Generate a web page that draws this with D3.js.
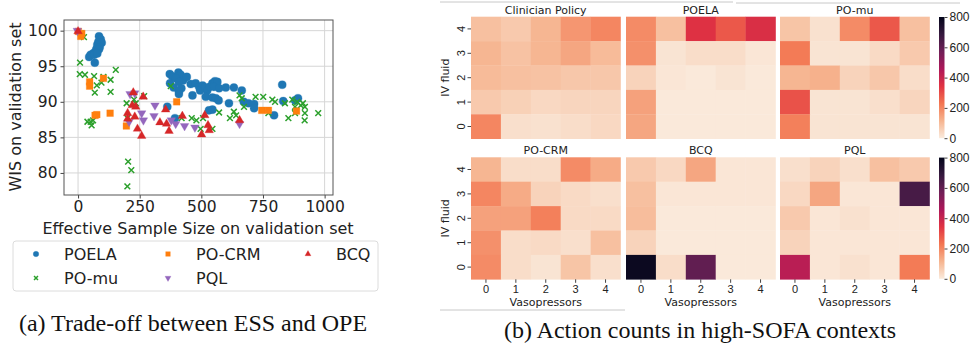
<!DOCTYPE html>
<html>
<head>
<meta charset="utf-8">
<script src="https://cdn.jsdelivr.net/npm/d3@7"></script>
<style>
  body { margin: 0; background: #fff; }
  svg { display: block; font-family: "DejaVu Sans", sans-serif; }
</style>
</head>
<body>
<svg id="chart" width="972" height="349"></svg>
<script>
// --- scatter data (ESS, WIS) ---
const poela = [
  [85, 99.2], [92, 98.8], [82, 98.4], [96, 98.3], [78, 98.0], [88, 97.7], [74, 97.4], [85, 97.4],
  [69, 97.0], [61, 96.8], [51, 96.6], [45, 96.3], [65, 96.6], [68, 95.5], [78, 96.8],
  [372, 93.9], [382, 93.6], [373, 92.6], [407, 94.1], [416, 93.8], [396, 93.3], [426, 93.0],
  [441, 93.5], [409, 92.8], [388, 92.0], [419, 91.9], [409, 91.5], [457, 92.5], [477, 92.6],
  [491, 92.1], [505, 92.3], [495, 91.6], [515, 92.0], [524, 91.6], [534, 92.1], [545, 92.6],
  [555, 92.9], [565, 92.8], [551, 92.1], [572, 91.9], [518, 90.7], [545, 90.6], [559, 90.5],
  [570, 90.2], [464, 90.9], [599, 92.0], [632, 92.0], [664, 91.6], [612, 89.8], [672, 90.0],
  [691, 89.8], [714, 89.7], [714, 89.1], [828, 92.4], [832, 90.1], [880, 90.2], [892, 90.5],
  [795, 88.1], [531, 88.8], [545, 88.9], [362, 89.3], [393, 87.7], [409, 91.1]
];
const poMu = [
  [11, 99.6], [24, 99.1], [8, 95.5], [7, 93.9], [28, 93.8], [65, 93.6], [103, 93.5], [132, 93.1],
  [153, 94.5], [95, 92.7], [76, 92.3], [68, 91.3], [132, 91.4], [38, 87.2], [51, 87.2], [55, 86.7],
  [61, 87.4], [197, 89.8], [200, 87.7], [203, 81.6], [216, 80.4], [200, 78.1], [227, 90.3],
  [234, 89.8], [268, 90.8], [376, 92.2], [420, 87.7], [461, 87.7], [480, 87.4], [497, 86.2],
  [507, 87.7], [545, 86.2], [572, 88.5], [616, 87.7], [632, 88.6], [641, 88.1], [655, 90.9],
  [664, 90.5], [673, 89.3], [720, 90.7], [751, 90.7], [772, 88.4], [788, 90.3], [799, 90.0],
  [839, 89.8], [853, 87.7], [869, 90.3], [880, 89.3], [889, 90.0], [903, 89.5], [912, 89.8],
  [920, 89.3], [920, 88.4], [919, 87.4], [974, 88.4], [880, 88.4]
];
const poCrm = [
  [1, 99.9], [15, 99.6], [11, 99.2], [47, 92.8], [47, 92.2], [103, 93.3], [69, 88.1], [76, 88.2],
  [130, 88.4], [196, 86.6], [400, 90.0], [745, 88.8], [772, 88.8], [886, 88.7]
];
const pql = [
  [-3, 100.0], [211, 91.1], [230, 91.2], [207, 87.2], [258, 88.4], [265, 87.4], [312, 89.5],
  [308, 88.0], [378, 87.4], [396, 86.9], [432, 86.6], [474, 86.4], [655, 86.9]
];
const bcq = [
  [0, 99.9], [201, 88.4], [201, 87.6], [220, 89.5], [224, 91.3], [234, 89.3], [230, 87.9],
  [241, 86.2], [258, 85.2], [264, 90.7], [332, 87.1], [359, 86.9], [369, 85.9], [355, 88.9],
  [423, 88.0], [501, 85.4], [514, 88.1], [527, 86.7], [532, 86.0], [655, 87.4]
];
const xTicks = [0, 250, 500, 750, 1000];
const yTicks = [80, 85, 90, 95, 100];

// --- heatmap data: rows IV fluid 4..0 (top to bottom), columns vasopressors 0..4 ---
const panelNames = ['Clinician Policy', 'POELA', 'PO-mu', 'PO-CRM', 'BCQ', 'PQL'];
const clinician = [
  [90, 70, 110, 170, 200],
  [110, 85, 110, 140, 100],
  [100, 90, 85, 75, 75],
  [70, 55, 40, 45, 45],
  [200, 25, 20, 30, 40]
];
const poelaCounts = [
  [190, 90, 350, 280, 360],
  [180, 15, 30, 30, 10],
  [50, 10, 5, 15, 5],
  [150, 5, 5, 5, 5],
  [140, 5, 5, 5, 5]
];
const poMuCounts = [
  [80, 20, 190, 280, 90],
  [220, 15, 15, 35, 70],
  [110, 120, 50, 75, 30],
  [290, 15, 15, 25, 45],
  [210, 15, 15, 15, 15]
];
const poCrmCounts = [
  [110, 30, 30, 190, 130],
  [200, 130, 50, 35, 25],
  [150, 150, 210, 35, 35],
  [180, 30, 35, 25, 90],
  [190, 30, 15, 80, 25]
];
const bcqCounts = [
  [70, 40, 140, 10, 10],
  [90, 10, 10, 10, 10],
  [95, 5, 5, 5, 5],
  [50, 5, 5, 5, 5],
  [780, 30, 600, 5, 5]
];
const pqlCounts = [
  [25, 50, 25, 90, 70],
  [40, 140, 10, 10, 650],
  [70, 10, 20, 10, 10],
  [50, 10, 10, 10, 10],
  [430, 10, 20, 10, 220]
];
const levels = [0, 1, 2, 3, 4];
const cbarTicks = [0, 200, 400, 600, 800];
// seaborn "rocket" colour stops, light to dark (rocket_r)
const rocketR = ['#faebdd', '#f6b48f', '#f37651', '#e13342', '#ad1759', '#701f57', '#35193e', '#03051a'];

const svg = d3.select('#chart');

// ================= (a) scatter =================
const x = d3.scaleLinear().domain([-57, 1034]).range([64, 333]);
const y = d3.scaleLinear().domain([76.9, 101.5]).range([195, 20]);

const sc = svg.append('g');

sc.selectAll('line.gx').data(xTicks).enter().append('line')
  .attr('x1', d => x(d)).attr('x2', d => x(d))
  .attr('y1', y.range()[1]).attr('y2', y.range()[0])
  .style('stroke', '#d6d6d6').style('stroke-width', 1);
sc.selectAll('line.gy').data(yTicks).enter().append('line')
  .attr('y1', d => y(d)).attr('y2', d => y(d))
  .attr('x1', x.range()[0]).attr('x2', x.range()[1])
  .style('stroke', '#d6d6d6').style('stroke-width', 1);

const xAxis = sc.append('g')
  .attr('transform', `translate(0,${y.range()[0]})`)
  .call(d3.axisBottom(x).tickValues(xTicks).tickFormat(d3.format('d')).tickSize(3.5).tickPadding(2.5));
const yAxis = sc.append('g')
  .attr('transform', `translate(${x.range()[0]},0)`)
  .call(d3.axisLeft(y).tickValues(yTicks).tickSize(3.5).tickPadding(3));
[xAxis, yAxis].forEach(a => {
  a.select('.domain').remove();
  a.selectAll('text').style('font-size', '15.5px').style('fill', '#222').style('font-family', 'DejaVu Sans');
  a.selectAll('line').style('stroke', '#444');
});

sc.append('rect')
  .attr('x', x.range()[0]).attr('y', y.range()[1])
  .attr('width', x.range()[1] - x.range()[0]).attr('height', y.range()[0] - y.range()[1])
  .style('fill', 'none').style('stroke', '#555').style('stroke-width', 1);

const series = [
  { name: 'POELA', data: poela, color: '#1f77b4', shape: 'circle' },
  { name: 'PO-mu', data: poMu, color: '#2ca02c', shape: 'x' },
  { name: 'PO-CRM', data: poCrm, color: '#ff7f0e', shape: 'square' },
  { name: 'PQL', data: pql, color: '#9467bd', shape: 'down' },
  { name: 'BCQ', data: bcq, color: '#d62728', shape: 'up' }
];

function markerPath(shape, s) {
  if (shape === 'circle') return d3.symbol(d3.symbolCircle, s * s * 0.8)();
  if (shape === 'square') return d3.symbol(d3.symbolSquare, s * s * 0.7)();
  if (shape === 'up' || shape === 'down') return d3.symbol(d3.symbolTriangle, s * s * 0.5)();
  const h = s * 0.36;
  return `M${-h},${-h}L${h},${h}M${-h},${h}L${h},${-h}`;
}

function drawMarker(sel, ser, size) {
  sel.append('path')
    .attr('d', markerPath(ser.shape, size))
    .attr('transform', ser.shape === 'down' ? 'rotate(180)' : null)
    .style('fill', ser.shape === 'x' ? 'none' : ser.color)
    .style('stroke', ser.color)
    .style('stroke-width', ser.shape === 'x' ? 1.5 : 0.3);
}

series.forEach(ser => {
  const g = sc.append('g');
  g.selectAll('g').data(ser.data).enter().append('g')
    .attr('transform', d => `translate(${x(d[0])},${y(d[1])})`)
    .each(function () { drawMarker(d3.select(this), ser, 8); });
});

sc.append('text')
  .attr('x', 198).attr('y', 234)
  .attr('text-anchor', 'middle')
  .style('font-size', '16px').style('fill', '#222')
  .text('Effective Sample Size on validation set');
sc.append('text')
  .attr('transform', 'translate(21,107) rotate(-90)')
  .attr('text-anchor', 'middle')
  .style('font-size', '16px').style('fill', '#222')
  .text('WIS on validation set');

// legend (matplotlib ncol=3 fills column-wise)
const lg = sc.append('g');
lg.append('rect')
  .attr('x', 13).attr('y', 241).attr('width', 365).attr('height', 50).attr('rx', 3)
  .style('fill', '#fff').style('stroke', '#dcdcdc');
const legendPos = [[36, 254], [36, 278], [168, 254], [168, 278], [308, 254]];
series.forEach((ser, i) => {
  const item = lg.append('g').attr('transform', `translate(${legendPos[i][0]},${legendPos[i][1]})`);
  drawMarker(item, ser, 5.5);
  item.append('text')
    .attr('x', 28).attr('y', 6)
    .style('font-size', '16px').style('fill', '#222')
    .text(ser.name);
});

svg.append('text')
  .attr('x', 193).attr('y', 331)
  .attr('text-anchor', 'middle')
  .style('font-family', '"Liberation Serif", serif').style('font-size', '24px').style('fill', '#111')
  .text('(a) Trade-off between ESS and OPE');

// ================= (b) heatmaps =================
const color = d3.scaleLinear()
  .domain(rocketR.map((c, i) => i * 800 / (rocketR.length - 1)))
  .range(rocketR)
  .interpolate(d3.interpolateRgb)
  .clamp(true);

const matrices = [clinician, poelaCounts, poMuCounts, poCrmCounts, bcqCounts, pqlCounts];
const colLeft = [471, 626, 780];
const rowTop = [16.7, 157.3];
const hmW = 149.5, hmH = 122;

const hm = svg.append('g');

// subfigure frame remnants
hm.append('line').attr('x1', 440).attr('x2', 733).attr('y1', 2).attr('y2', 2).style('stroke', '#c8c8c8');
hm.append('line').attr('x1', 736).attr('x2', 960).attr('y1', 3).attr('y2', 3).style('stroke', '#c8c8c8');
hm.append('line').attr('x1', 440).attr('x2', 625).attr('y1', 310).attr('y2', 310).style('stroke', '#c8c8c8');

matrices.forEach((m, p) => {
  const col = p % 3, row = Math.floor(p / 3);
  const cx = d3.scaleBand().domain(levels).range([colLeft[col], colLeft[col] + hmW]);
  const cy = d3.scaleBand().domain(levels.slice().reverse()).range([rowTop[row], rowTop[row] + hmH]);
  const g = hm.append('g');

  const cells = [];
  m.forEach((r, ri) => r.forEach((v, ci) => cells.push({ fluid: 4 - ri, vaso: ci, v })));

  g.selectAll('rect').data(cells).enter().append('rect')
    .attr('x', d => cx(d.vaso)).attr('y', d => cy(d.fluid))
    .attr('width', cx.bandwidth() + 0.3).attr('height', cy.bandwidth() + 0.3)
    .style('fill', d => color(d.v));

  g.append('text')
    .attr('x', colLeft[col] + hmW / 2).attr('y', rowTop[row] - 3)
    .attr('text-anchor', 'middle')
    .style('font-size', '11px').style('fill', '#222')
    .text(panelNames[p]);

  if (col === 0) {
    const ya = g.append('g')
      .attr('transform', `translate(${colLeft[col]},0)`)
      .call(d3.axisLeft(cy).tickSize(3.5).tickPadding(3));
    ya.select('.domain').remove();
    ya.selectAll('line').style('stroke', '#444');
    ya.selectAll('.tick text')
      .attr('transform', 'translate(-10,0) rotate(-90)')
      .attr('x', 0).attr('y', 0).attr('dy', '0.35em')
      .attr('text-anchor', 'middle')
      .style('font-size', '11px').style('fill', '#222');
    g.append('text')
      .attr('transform', `translate(449,${rowTop[row] + hmH / 2}) rotate(-90)`)
      .attr('text-anchor', 'middle')
      .style('font-size', '11px').style('fill', '#222')
      .text('IV fluid');
  }
  if (row === 1) {
    const xa = g.append('g')
      .attr('transform', `translate(0,${rowTop[row] + hmH})`)
      .call(d3.axisBottom(cx).tickSize(3.5).tickPadding(2));
    xa.select('.domain').remove();
    xa.selectAll('line').style('stroke', '#444');
    xa.selectAll('text').style('font-size', '11px').style('fill', '#222');
    g.append('text')
      .attr('x', colLeft[col] + hmW / 2).attr('y', 305.5)
      .attr('text-anchor', 'middle')
      .style('font-size', '11px').style('fill', '#222')
      .text('Vasopressors');
  }
});

// colorbars
const grad = svg.append('defs').append('linearGradient')
  .attr('id', 'rocket').attr('x1', 0).attr('y1', 1).attr('x2', 0).attr('y2', 0);
grad.selectAll('stop').data(rocketR).enter().append('stop')
  .attr('offset', (d, i) => i / (rocketR.length - 1))
  .attr('stop-color', d => d);

rowTop.forEach(top => {
  const cb = d3.scaleLinear().domain([0, 800]).range([top + hmH - 0.5, top + 0.3]);
  const g = hm.append('g');
  g.append('rect')
    .attr('x', 939).attr('y', cb(800)).attr('width', 5.5).attr('height', cb(0) - cb(800))
    .style('fill', 'url(#rocket)');
  const a = g.append('g')
    .attr('transform', 'translate(944.5,0)')
    .call(d3.axisRight(cb).tickValues(cbarTicks).tickSize(3).tickPadding(2));
  a.select('.domain').remove();
  a.selectAll('line').style('stroke', '#444');
  a.selectAll('text').style('font-size', '12px').style('fill', '#222');
});

svg.append('text')
  .attr('x', 700).attr('y', 338)
  .attr('text-anchor', 'middle')
  .style('font-family', '"Liberation Serif", serif').style('font-size', '24px').style('fill', '#111')
  .text('(b) Action counts in high-SOFA contexts');
</script>
</body>
</html>
